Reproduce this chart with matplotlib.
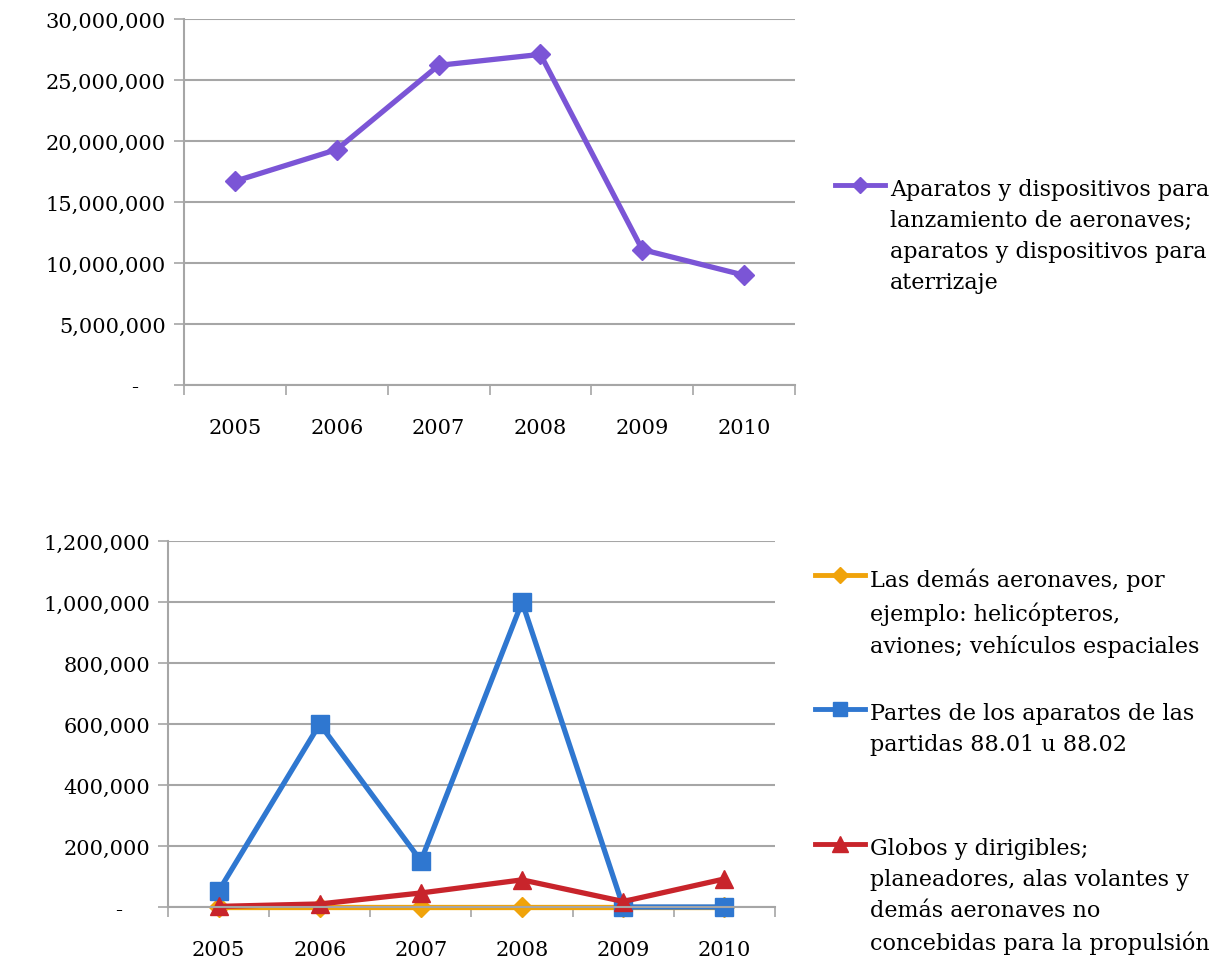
import matplotlib
matplotlib.use("Agg")
import matplotlib.pyplot as plt
from matplotlib.lines import Line2D
from matplotlib.ticker import FuncFormatter, MultipleLocator

# Data
years = ["2005", "2006", "2007", "2008", "2009", "2010"]
lanzamiento = [16700000, 19300000, 26200000, 27100000, 11100000, 9000000]
demas_aeronaves = [0, 0, 0, 0, 0, 0]
partes = [52000, 600000, 151000, 1000000, 0, 0]
globos = [2000, 10000, 46000, 89000, 18000, 92000]

lab_top = "Aparatos y dispositivos para\nlanzamiento de aeronaves;\naparatos y dispositivos para\naterrizaje"
lab_demas = "Las demás aeronaves, por\nejemplo: helicópteros,\naviones; vehículos espaciales"
lab_partes = "Partes de los aparatos de las\npartidas 88.01 u 88.02"
lab_globos = "Globos y dirigibles;\nplaneadores, alas volantes y\ndemás aeronaves no\nconcebidas para la propulsión"

PURPLE = "#7b55d6"
ORANGE = "#f0a30a"
BLUE = "#2f77d0"
RED = "#c8242b"
GRID = "#a6a6a6"

plt.rcParams['font.family'] = ['DejaVu Serif']
FS = 15
LFS = 16

W, H = 1223, 962
fig = plt.figure(figsize=(W / 100, H / 100), dpi=100)


def fmt(v, pos):
    if v == 0:
        return "-    "
    return f"{int(v):,}"


def style_axes(ax, ymax, step):
    x = range(len(years))
    ax.set_xlim(-0.5, len(years) - 0.5)
    ax.set_ylim(0, ymax)
    ax.yaxis.set_major_locator(MultipleLocator(step))
    ax.yaxis.set_major_formatter(FuncFormatter(fmt))
    ax.set_xticks(list(x))
    ax.set_xticklabels(years)
    ax.set_xticks([i - 0.5 for i in range(len(years) + 1)], minor=True)
    ax.tick_params(axis="x", which="major", length=0, pad=24, labelsize=FS)
    ax.tick_params(axis="x", which="minor", length=7, color=GRID, width=1.2, direction="out")
    ax.tick_params(axis="y", length=7, color=GRID, width=1.2, labelsize=FS, pad=6)
    ax.grid(axis="y", color=GRID, linewidth=1.5)
    ax.set_axisbelow(True)
    for s in ["top", "right"]:
        ax.spines[s].set_visible(False)
    for s in ["left", "bottom"]:
        ax.spines[s].set_color(GRID)
        ax.spines[s].set_linewidth(1.5)


def legend_entry(x0, y, color, marker, ms, text):
    # handle line + marker, text top-aligned with the handle
    fx0, fx1 = x0 / W, (x0 + 50) / W
    fy = 1 - y / H
    fig.add_artist(Line2D([fx0, fx1], [fy, fy], color=color, lw=3.5, transform=fig.transFigure))
    fig.add_artist(Line2D([(fx0 + fx1) / 2], [fy], color=color, marker=marker, ms=ms,
                          transform=fig.transFigure))
    fig.text((x0 + 55) / W, 1 - (y - 7) / H, text, fontsize=LFS, va="top", ha="left",
             linespacing=1.53)


# top chart
ax1 = fig.add_axes([184 / W, 1 - 386 / H, 611 / W, 366 / H])
x = list(range(len(years)))
ax1.plot(x, lanzamiento, color=PURPLE, lw=3.8, marker="D", ms=10)
style_axes(ax1, 30000000, 5000000)
legend_entry(835, 186, PURPLE, "D", 8, lab_top)

# bottom chart
ax2 = fig.add_axes([168 / W, 1 - 908 / H, 607 / W, 366 / H])
ax2.plot(x, demas_aeronaves, color=ORANGE, lw=3.8, marker="D", ms=10, clip_on=False)
ax2.plot(x, partes, color=BLUE, lw=3.8, marker="s", ms=13, clip_on=False)
ax2.plot(x, globos, color=RED, lw=3.8, marker="^", ms=13, clip_on=False)
style_axes(ax2, 1200000, 200000)
legend_entry(815, 576, ORANGE, "D", 8, lab_demas)
legend_entry(815, 710, BLUE, "s", 10, lab_partes)
legend_entry(815, 845, RED, "^", 11, lab_globos)

fig.savefig("out.png", dpi=100)
